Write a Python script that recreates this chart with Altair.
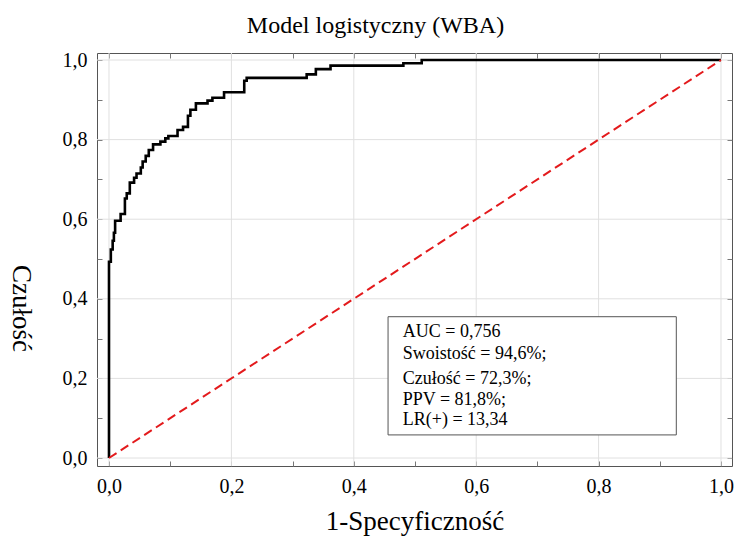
import altair as alt
import pandas as pd

# ROC curve corner points (1-specificity, sensitivity), step-after
fpr = [0, 0, 0.003, 0.006, 0.008, 0.010, 0.019, 0.026, 0.029, 0.034, 0.041,
       0.045, 0.052, 0.055, 0.060, 0.065, 0.072, 0.084, 0.092, 0.097, 0.112,
       0.121, 0.129, 0.133, 0.142, 0.161, 0.169, 0.188, 0.221, 0.225, 0.323,
       0.338, 0.362, 0.481, 0.511, 1.0]
tpr = [0, 0.493, 0.524, 0.546, 0.566, 0.596, 0.613, 0.652, 0.665, 0.692, 0.704,
       0.715, 0.730, 0.745, 0.759, 0.774, 0.788, 0.795, 0.803, 0.809, 0.824,
       0.832, 0.860, 0.875, 0.891, 0.898, 0.905, 0.919, 0.948, 0.955, 0.964,
       0.977, 0.986, 0.992, 1.0, 1.0]

diag_x = [0, 1]
diag_y = [0, 1]

tick_values = [0.0, 0.1, 0.2, 0.3, 0.4, 0.5, 0.6, 0.7, 0.8, 0.9, 1.0]
grid_values = [0.0, 0.2, 0.4, 0.6, 0.8, 1.0]

stats_lines = ["AUC = 0,756", "Swoistość = 94,6%;", "Czułość = 72,3%;",
               "PPV = 81,8%;", "LR(+) = 13,34"]
stats_y = [0.303, 0.248, 0.186, 0.133, 0.083]
stats_x = [0.480] * 5
box_x = [0.456]
box_x2 = [0.927]
box_y = [0.355]
box_y2 = [0.058]

FONT = "Liberation Serif"

roc_df = pd.DataFrame({"fpr": fpr, "tpr": tpr, "i": list(range(len(fpr)))})
diag_df = pd.DataFrame({"x": diag_x, "y": diag_y})
grid_df = pd.DataFrame({"g": grid_values})
stats_df = pd.DataFrame({"x": stats_x, "y": stats_y, "t": stats_lines})
box_df = pd.DataFrame({"x": box_x, "x2": box_x2, "y": box_y, "y2": box_y2})

xscale = alt.Scale(domain=[-0.0196, 1.018], nice=False, zero=False)
yscale = alt.Scale(domain=[-0.0201, 1.0176], nice=False, zero=False)

even = "round(datum.value*10)%2==0"
label_expr = f"{even} ? replace(format(datum.value, '.1f'), '.', ',') : ''"

x_axis = alt.Axis(values=tick_values, labelExpr=label_expr, grid=False,
                  domain=False, offset=-5, tickSize=5, tickColor="#777777",
                  labelFont=FONT, labelFontSize=20, labelColor="black",
                  labelPadding=10, labelFlush=False, labelOverlap=False,
                  title="1-Specyficzność", titleFont=FONT, titleFontSize=27,
                  titleFontWeight="normal", titleColor="black",
                  titleBaseline="alphabetic", titleY=68)
y_axis = alt.Axis(values=tick_values, labelExpr=label_expr, grid=False,
                  domain=False, offset=-5, tickSize=5, tickColor="#777777",
                  labelFont=FONT, labelFontSize=20, labelColor="black",
                  labelPadding=10, labelFlush=False, labelOverlap=False,
                  title="Czułość", titleFont=FONT, titleFontSize=27,
                  titleFontWeight="normal", titleColor="black",
                  titleAngle=90, titleAlign="center", titleBaseline="middle",
                  titleX=-82, titleY=255)
x_axis_top = alt.Axis(orient="top", values=tick_values, labels=False, grid=False,
                      domain=False, offset=-5, tickSize=5, tickColor="#777777",
                      title=None)
y_axis_right = alt.Axis(orient="right", values=tick_values, labels=False, grid=False,
                        domain=False, offset=-5, tickSize=5, tickColor="#777777",
                        title=None)

vgrid = alt.Chart(grid_df).mark_rule(color="#e0e0e0", strokeWidth=1).encode(
    x=alt.X("g:Q", scale=xscale, axis=None)
)
hgrid = alt.Chart(grid_df).mark_rule(color="#e0e0e0", strokeWidth=1).encode(
    y=alt.Y("g:Q", scale=yscale, axis=None)
)

roc = alt.Chart(roc_df).mark_line(
    color="black", strokeWidth=2.6, interpolate="step-after"
).encode(
    x=alt.X("fpr:Q", scale=xscale, axis=x_axis),
    y=alt.Y("tpr:Q", scale=yscale, axis=y_axis),
    order="i:Q",
)

diag = alt.Chart(diag_df).mark_line(
    color="#e31a1c", strokeWidth=2, strokeDash=[9, 5]
).encode(
    x=alt.X("x:Q", scale=xscale, axis=x_axis_top),
    y=alt.Y("y:Q", scale=yscale, axis=y_axis_right),
)

box = alt.Chart(box_df).mark_rect(
    fill="white", stroke="#555555", strokeWidth=1
).encode(
    x=alt.X("x:Q", scale=xscale, axis=None),
    x2="x2:Q",
    y=alt.Y("y:Q", scale=yscale, axis=None),
    y2="y2:Q",
)

txt = alt.Chart(stats_df).mark_text(
    font=FONT, fontSize=18, align="left", baseline="alphabetic", color="black"
).encode(
    x=alt.X("x:Q", scale=xscale, axis=None),
    y=alt.Y("y:Q", scale=yscale, axis=None),
    text="t:N",
)

chart = alt.layer(vgrid, hgrid, roc, diag, box, txt).resolve_axis(
    x="independent", y="independent"
).properties(
    width=635,
    height=413,
    autosize=alt.AutoSizeParams(type="none"),
    padding={"left": 97, "top": 53, "right": 3, "bottom": 70},
    background="white",
    title=alt.TitleParams(
        "Model logistyczny (WBA)", font=FONT, fontSize=24, fontWeight="normal",
        color="black", anchor="middle", dx=-39, dy=23, offset=16,
        baseline="alphabetic",
    ),
).configure_view(
    stroke="#555555", strokeWidth=1, fill="white"
)

chart.save("out.html", embed_options={"renderer": "svg", "actions": False})
